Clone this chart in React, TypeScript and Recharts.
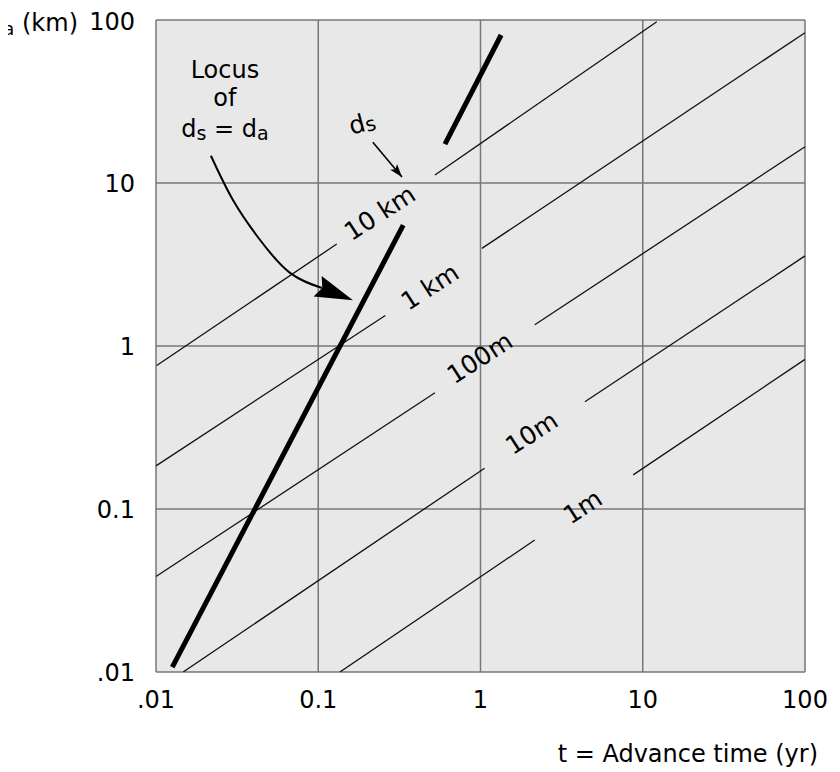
import React from "react";
import {
  LineChart, Line, XAxis, YAxis, CartesianGrid, ReferenceDot, ReferenceLine
} from "recharts";

// axis ticks (advance time t in yr, distance d in km)
const tTicks = [0.01, 0.1, 1, 10, 100];
const dTicks = [0.01, 0.1, 1, 10, 100];
const tickLabels: Record<number, string> = { 0.01: ".01", 0.1: "0.1", 1: "1", 10: "10", 100: "100" };

// lines of constant ds, each broken where its label sits
const ds10kmLow = [{ t: 0.0101, d: 0.76 }, { t: 0.13, d: 4.22 }];
const ds10kmHigh = [{ t: 0.524, d: 11.2 }, { t: 12.2, d: 97.6 }];
const ds1kmLow = [{ t: 0.01, d: 0.184 }, { t: 0.259, d: 1.54 }];
const ds1kmHigh = [{ t: 1.02, d: 3.97 }, { t: 100, d: 83.6 }];
const ds100mLow = [{ t: 0.01, d: 0.0385 }, { t: 0.524, d: 0.517 }];
const ds100mHigh = [{ t: 2.16, d: 1.35 }, { t: 100, d: 16.7 }];
const ds10mLow = [{ t: 0.0147, d: 0.01 }, { t: 1.06, d: 0.178 }];
const ds10mHigh = [{ t: 4.4, d: 0.455 }, { t: 100, d: 3.57 }];
const ds1mLow = [{ t: 0.136, d: 0.01 }, { t: 2.16, d: 0.0645 }];
const ds1mHigh = [{ t: 8.73, d: 0.162 }, { t: 100, d: 0.828 }];

// locus of ds = da (thick)
const locusLow = [{ t: 0.0126, d: 0.0107 }, { t: 0.334, d: 5.52 }];
const locusHigh = [{ t: 0.604, d: 17.3 }, { t: 1.34, d: 80.9 }];

// curved pointer from the "Locus" note
const curveArrow = [
  { t: 0.0218, d: 14.7 },
  { t: 0.0298, d: 7.87 },
  { t: 0.0438, d: 4.47 },
  { t: 0.067, d: 2.81 },
  { t: 0.1054, d: 2.27 },
];
const curveArrowHead = [{ t: 0.1054, d: 2.27 }, { t: 0.1637, d: 1.91 }];
const dsArrow = [{ t: 0.217, d: 17.8 }, { t: 0.328, d: 10.9 }];

const lineLabels = [
  { t: 0.24, d: 6.55, text: "10 km" },
  { t: 0.488, d: 2.3, text: "1 km" },
  { t: 0.99, d: 0.844, text: "100m" },
  { t: 2.07, d: 0.292, text: "10m" },
  { t: 4.27, d: 0.103, text: "1m" },
];

const FONT = "'DejaVu Sans', sans-serif";

const arrowHead = (x1: number, y1: number, x2: number, y2: number, len: number, half: number, notch: number) => {
  const a = Math.atan2(y2 - y1, x2 - x1);
  const ux = Math.cos(a), uy = Math.sin(a);
  const bx = x2 - ux * len, by = y2 - uy * len;
  const nx = x2 - ux * notch, ny = y2 - uy * notch;
  return `${x2},${y2} ${bx - uy * half},${by + ux * half} ${nx},${ny} ${bx + uy * half},${by - ux * half}`;
};

const thin = { stroke: "#111", strokeWidth: 1.3, dot: false, activeDot: false, isAnimationActive: false } as const;
const thick = { stroke: "#000", strokeWidth: 5, dot: false, activeDot: false, isAnimationActive: false } as const;

const App: React.FC = () => {
  return (
    <div style={{ fontFamily: FONT }}>
      <LineChart width={832} height={764} margin={{ top: 12, right: 35, bottom: 0, left: 8 }}>
        <CartesianGrid
          fill="#e8e8e8"
          stroke="#777"
          strokeWidth={1.5}
          horizontal
          vertical
        />
        <XAxis
          dataKey="t"
          type="number"
          scale="log"
          domain={[0.01, 100]}
          allowDataOverflow
          ticks={tTicks}
          tickFormatter={(v: number) => tickLabels[v]}
          tick={{ fill: "#000", fontSize: 24, fontFamily: FONT }}
          tickLine={false}
          axisLine={false}
          tickSize={0}
          tickMargin={19}
          height={100}
          label={{
            content: () => (
              <text x={810} y={754} textAnchor="end" fontSize={24} fontFamily={FONT} fill="#000">
                t = Advance time (yr)
              </text>
            ),
          }}
        />
        <YAxis
          dataKey="d"
          type="number"
          scale="log"
          domain={[0.01, 100]}
          allowDataOverflow
          ticks={dTicks}
          tickFormatter={(v: number) => tickLabels[v]}
          tick={{ fill: "#000", fontSize: 24, fontFamily: FONT }}
          tickLine={false}
          axisLine={false}
          tickSize={0}
          tickMargin={21}
          width={140}
          label={{
            content: () => (
              <text x={70} y={23} textAnchor="end" fontSize={24} fontFamily={FONT} fill="#000">
                d<tspan fontSize={18} dy={4}>a</tspan><tspan dy={-4}> (km)</tspan>
              </text>
            ),
          }}
        />

        <Line data={ds10kmLow} dataKey="d" {...thin} />
        <Line data={ds10kmHigh} dataKey="d" {...thin} />
        <Line data={ds1kmLow} dataKey="d" {...thin} />
        <Line data={ds1kmHigh} dataKey="d" {...thin} />
        <Line data={ds100mLow} dataKey="d" {...thin} />
        <Line data={ds100mHigh} dataKey="d" {...thin} />
        <Line data={ds10mLow} dataKey="d" {...thin} />
        <Line data={ds10mHigh} dataKey="d" {...thin} />
        <Line data={ds1mLow} dataKey="d" {...thin} />
        <Line data={ds1mHigh} dataKey="d" {...thin} />

        <Line data={locusLow} dataKey="d" {...thick} />
        <Line data={locusHigh} dataKey="d" {...thick} />

        <Line data={curveArrow} dataKey="d" type="natural" stroke="#000" strokeWidth={2} dot={false} activeDot={false} isAnimationActive={false} />
        <ReferenceLine
          segment={[{ x: curveArrowHead[0].t, y: curveArrowHead[0].d }, { x: curveArrowHead[1].t, y: curveArrowHead[1].d }]}
          shape={(p: any) => (
            <polygon points={arrowHead(p.x1, p.y1, p.x2, p.y2, 38, 11, 33)} fill="#000" />
          )}
        />
        <ReferenceLine
          segment={[{ x: dsArrow[0].t, y: dsArrow[0].d }, { x: dsArrow[1].t, y: dsArrow[1].d }]}
          shape={(p: any) => (
            <g>
              <line x1={p.x1} y1={p.y1} x2={p.x2} y2={p.y2} stroke="#000" strokeWidth={1.6} />
              <polygon points={arrowHead(p.x1, p.y1, p.x2, p.y2, 13, 4.5, 10)} fill="#000" />
            </g>
          )}
        />

        {lineLabels.map((l) => (
          <ReferenceDot
            key={l.text}
            x={l.t}
            y={l.d}
            shape={(p: any) => (
              <text
                x={p.cx}
                y={p.cy}
                textAnchor="middle"
                dominantBaseline="central"
                fontSize={25}
                fontFamily={FONT}
                fill="#000"
                transform={`rotate(-33 ${p.cx} ${p.cy})`}
              >
                {l.text}
              </text>
            )}
          />
        ))}

        <ReferenceDot
          x={0.186}
          y={23.3}
          shape={(p: any) => (
            <text
              x={p.cx}
              y={p.cy}
              textAnchor="middle"
              dominantBaseline="central"
              fontSize={25}
              fontFamily={FONT}
              fill="#000"
              transform={`rotate(-15 ${p.cx} ${p.cy})`}
            >
              d<tspan fontSize={20} dy={3}>s</tspan>
            </text>
          )}
        />

        <ReferenceDot
          x={0.0266}
          y={33.7}
          shape={(p: any) => (
            <text x={p.cx} y={p.cy} textAnchor="middle" fontSize={24} fontFamily={FONT} fill="#000">
              <tspan x={p.cx} dy={-19}>Locus</tspan>
              <tspan x={p.cx} dy={28}>of</tspan>
              <tspan x={p.cx} dy={31}>d</tspan>
              <tspan fontSize={19} dy={3}>s</tspan>
              <tspan dy={-3}> = d</tspan>
              <tspan fontSize={19} dy={3}>a</tspan>
            </text>
          )}
        />
      </LineChart>
    </div>
  );
};

export default App;
